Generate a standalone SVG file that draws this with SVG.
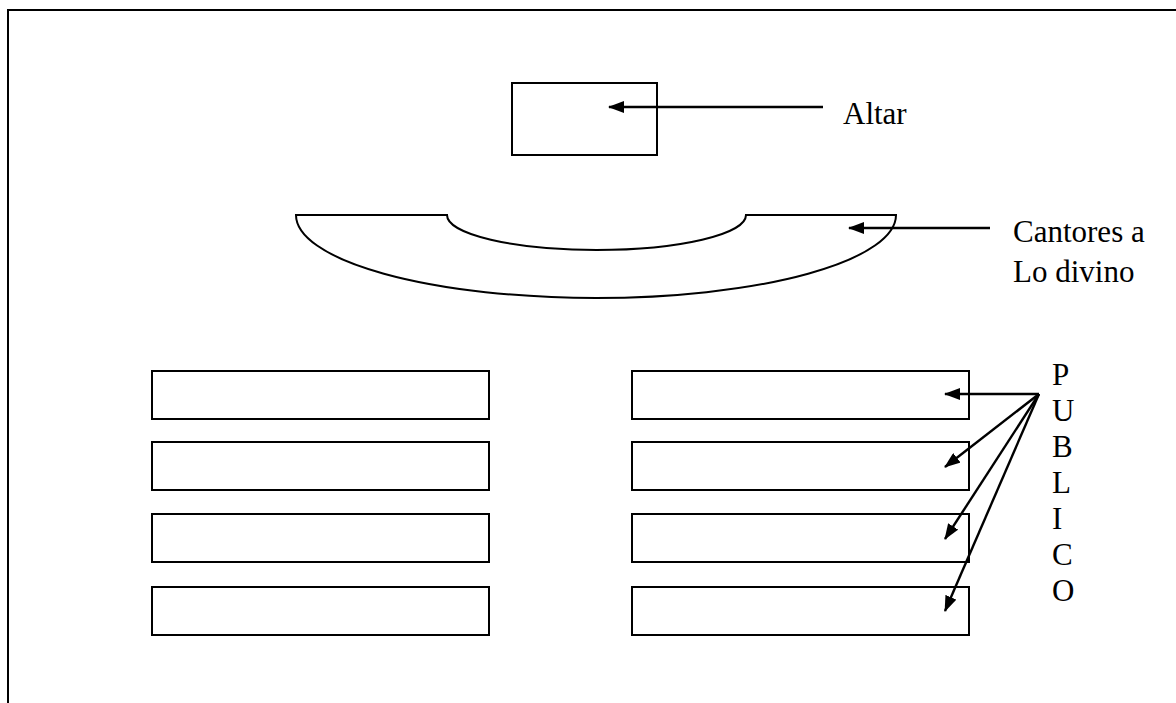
<svg xmlns="http://www.w3.org/2000/svg" width="1176" height="703" viewBox="0 0 1176 703">
<style>
.box{fill:#fff;stroke:#000;stroke-width:2}
.ln{fill:none;stroke:#000;stroke-width:2.4}
.t{font-family:"Liberation Serif","Times New Roman",serif;font-size:31px;fill:#000}
</style>
<defs>
<marker id="ah" viewBox="0 0 16 12" refX="15" refY="6" markerWidth="16" markerHeight="12" markerUnits="userSpaceOnUse" orient="auto">
<path d="M0,0 L16,6 L0,12 Z" fill="#000"/>
</marker>
</defs>
<rect width="1176" height="703" fill="#fff"/>
<path d="M8,703 L8,10 L1176,10" fill="none" stroke="#000" stroke-width="2"/>
<g id="altar"><rect class="box" x="512" y="83" width="145" height="72"/></g>
<g id="cantores"><path class="box" d="M296,215 L447,215 A149.5,35 0 0 0 746,215 L896,215 A300,83 0 0 1 296,215 Z"/></g>
<g id="bancos-izq">
<rect class="box" x="152" y="371" width="337" height="48"/>
<rect class="box" x="152" y="442" width="337" height="48"/>
<rect class="box" x="152" y="514" width="337" height="48"/>
<rect class="box" x="152" y="587" width="337" height="48"/>
</g>
<g id="bancos-der">
<rect class="box" x="632" y="371" width="337" height="48"/>
<rect class="box" x="632" y="442" width="337" height="48"/>
<rect class="box" x="632" y="514" width="337" height="48"/>
<rect class="box" x="632" y="587" width="337" height="48"/>
</g>
<g id="connectors">
<line class="ln" x1="823" y1="107" x2="609" y2="107" marker-end="url(#ah)"/>
<line class="ln" x1="990" y1="228" x2="849" y2="228" marker-end="url(#ah)"/>
<line class="ln" x1="1039" y1="394" x2="945" y2="394" marker-end="url(#ah)"/>
<line class="ln" x1="1039" y1="394" x2="945" y2="467" marker-end="url(#ah)"/>
<line class="ln" x1="1039" y1="394" x2="945" y2="539" marker-end="url(#ah)"/>
<line class="ln" x1="1039" y1="394" x2="945" y2="611" marker-end="url(#ah)"/>
</g>
<g id="labels">
<text class="t" x="843" y="124">Altar</text>
<text class="t" x="1013" y="242">Cantores a</text>
<text class="t" x="1013" y="282">Lo divino</text>
<text class="t" x="1052" y="385">P</text>
<text class="t" x="1052" y="421">U</text>
<text class="t" x="1052" y="457">B</text>
<text class="t" x="1052" y="493">L</text>
<text class="t" x="1052" y="529">I</text>
<text class="t" x="1052" y="565">C</text>
<text class="t" x="1052" y="601">O</text>
</g>
</svg>
